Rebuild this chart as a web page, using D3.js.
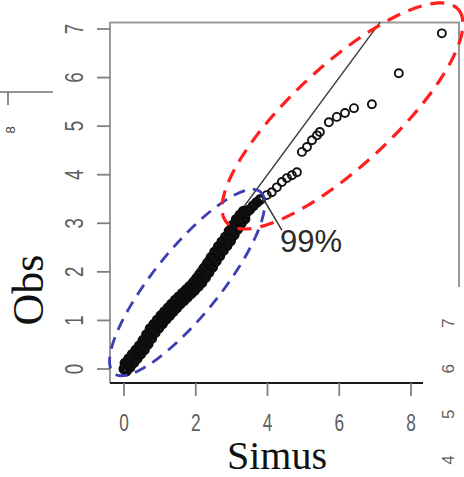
<!DOCTYPE html>
<html><head><meta charset="utf-8">
<script src="https://cdn.jsdelivr.net/npm/d3@7"></script>
<style>html,body{margin:0;padding:0;background:#fff;}svg{display:block;}</style>
</head><body>
<svg id="chart" width="464" height="477"></svg>
<script>
// ---- data ----
const xTicks = [0, 2, 4, 6, 8];
const yTicks = [0, 1, 2, 3, 4, 5, 6, 7];
const xTitle = "Simus";
const yTitle = "Obs";
const annotation = "99%";

// dense band of quantiles (simulated vs observed)
const bandSimus = [0.00,0.10,0.20,0.30,0.40,0.50,0.60,0.70,0.80,0.90,1.00,1.10,1.20,1.30,1.40,1.50,1.60,1.70,1.80,1.90,2.00,2.10,2.20,2.30,2.40,2.50,2.60,2.70,2.80,2.90,3.00,3.10,3.20,3.30,3.40,3.50,3.60,3.70,3.80,
  0.03,0.13,0.23,0.33,0.43,0.53,0.63,0.73,0.83,0.93,1.03,1.13,1.23,1.33,1.43,1.53,1.63,1.73,1.83,1.93,2.03,2.13,2.23,2.33,2.43,2.53,2.63,2.73,2.83,2.93,3.03,3.13,3.23,3.33,
  0.07,0.17,0.27,0.37,0.47,0.57,0.67,0.77,0.87,0.97,1.07,1.17,1.27,1.37,1.47,1.57,1.67,1.77,1.87,1.97,2.07,2.17,2.27,2.37,2.47,2.57,2.67,2.77,2.87,2.97,3.07,3.17,3.27,3.37];
const bandObs = [0.00,0.08,0.17,0.26,0.35,0.44,0.55,0.67,0.79,0.88,0.97,1.06,1.14,1.22,1.30,1.38,1.45,1.52,1.59,1.66,1.74,1.82,1.92,2.03,2.14,2.26,2.37,2.48,2.58,2.68,2.80,2.92,3.04,3.13,3.21,3.28,3.36,3.43,3.49,
  0.12,0.21,0.30,0.39,0.48,0.59,0.71,0.83,0.92,1.01,1.10,1.18,1.26,1.34,1.42,1.49,1.56,1.63,1.70,1.78,1.86,1.96,2.07,2.18,2.30,2.41,2.52,2.62,2.72,2.84,2.96,3.08,3.17,3.25,
  -0.04,0.04,0.13,0.22,0.31,0.40,0.51,0.63,0.75,0.84,0.93,1.02,1.10,1.18,1.26,1.34,1.41,1.48,1.55,1.62,1.70,1.78,1.88,1.99,2.10,2.22,2.33,2.44,2.54,2.64,2.76,2.88,3.00,3.09];
// sparse upper tail
const tailSimus = [3.98,4.12,4.26,4.40,4.54,4.68,4.82,4.96,5.10,5.24,5.38,5.46,5.71,5.93,6.16,6.41,6.91,7.66,8.86];
const tailObs   = [3.58,3.64,3.74,3.85,3.93,3.99,4.05,4.47,4.57,4.71,4.81,4.88,5.08,5.19,5.27,5.37,5.45,6.09,6.91];

// reference line y = x
const refLine = [[0, 0], [7.14, 7.14]];
// confidence ellipses: centre, half major vector, half minor vector (data units)
const blueEllipse = {c: [1.76, 1.78], a: [2.04, 1.87], b: [0.72, -0.43]};
const redEllipse  = {c: [6.09, 5.21], a: [3.22, 2.20], b: [0.95, -0.76]};
// pointer from label to point
const pointer = [[3.90, 3.48], [4.40, 2.86]];
const labelPos = [4.35, 2.41];

// fragments of neighbouring panels
const rightFragTicks = [4, 5, 6, 7];
const leftFragTicks = [8];

// ---- drawing ----
const svg = d3.select("#chart");
svg.append("rect").attr("width", 464).attr("height", 477).attr("fill", "#fff");

const x = d3.scaleLinear().domain([0, 8]).range([124, 411]);
const y = d3.scaleLinear().domain([0, 7]).range([369, 29]);

const gray = "#9a9a9a";
const labelColor = "#5e5e5e";

// frame: top and right border (gray)
svg.append("path").attr("d", `M110,22.5 H459 V287`).attr("fill", "none")
  .attr("stroke", gray).attr("stroke-width", 2);
// y axis line
svg.append("line").attr("x1", 110).attr("x2", 110).attr("y1", 22).attr("y2", 383)
  .attr("stroke", gray).attr("stroke-width", 2);
// x axis line
svg.append("line").attr("x1", 110).attr("x2", 423).attr("y1", 383).attr("y2", 383)
  .attr("stroke", "#1a1a1a").attr("stroke-width", 2.2);

// y ticks
const yAx = svg.append("g");
yAx.selectAll("line").data(yTicks).join("line")
  .attr("x1", 97).attr("x2", 110).attr("y1", d => y(d)).attr("y2", d => y(d))
  .attr("stroke", "#808080").attr("stroke-width", 1.8);
yAx.selectAll("text").data(yTicks).join("text")
  .attr("transform", d => `translate(83,${y(d)}) rotate(-90) scale(0.75,1)`)
  .attr("text-anchor", "middle").attr("font-family", "Liberation Sans, Arial, sans-serif")
  .attr("font-size", 25).attr("fill", labelColor).text(d => d);

// x ticks
const xAx = svg.append("g");
xAx.selectAll("line").data(xTicks).join("line")
  .attr("x1", d => x(d)).attr("x2", d => x(d)).attr("y1", 383).attr("y2", 396)
  .attr("stroke", "#808080").attr("stroke-width", 1.8);
xAx.selectAll("text").data(xTicks).join("text")
  .attr("transform", d => `translate(${x(d)},431) scale(0.72,1)`)
  .attr("text-anchor", "middle").attr("font-family", "Liberation Sans, Arial, sans-serif")
  .attr("font-size", 24).attr("fill", labelColor).text(d => d);

// titles
svg.append("text").attr("x", 277).attr("y", 469).attr("text-anchor", "middle")
  .attr("font-family", "Liberation Serif, Times New Roman, serif").attr("font-size", 40)
  .attr("fill", "#111").text(xTitle);
svg.append("text").attr("transform", "translate(43,290) rotate(-90)").attr("text-anchor", "middle")
  .attr("font-family", "Liberation Serif, Times New Roman, serif").attr("font-size", 44)
  .attr("fill", "#111").text(yTitle);

// reference line
const line = d3.line().x(d => x(d[0])).y(d => y(d[1]));
svg.append("path").attr("d", line(refLine)).attr("fill", "none")
  .attr("stroke", "#3a3a3a").attr("stroke-width", 1.4);

// points: dense band (heavily overlapping) and sparse tail
svg.append("g").selectAll("circle").data(bandSimus.map((s, i) => [s, bandObs[i]])).join("circle")
  .attr("cx", d => x(d[0])).attr("cy", d => y(d[1])).attr("r", 3.8)
  .attr("fill", "none").attr("stroke", "#0d0d0d").attr("stroke-width", 3.4);
svg.append("g").selectAll("circle").data(tailSimus.map((s, i) => [s, tailObs[i]])).join("circle")
  .attr("cx", d => x(d[0])).attr("cy", d => y(d[1])).attr("r", 4)
  .attr("fill", "none").attr("stroke", "#111").attr("stroke-width", 1.9);

// ellipses
function ellipsePts(e) {
  const ts = d3.range(0, 361, 3).map(t => t * Math.PI / 180);
  return ts.map(t => [e.c[0] + e.a[0] * Math.cos(t) + e.b[0] * Math.sin(t),
                      e.c[1] + e.a[1] * Math.cos(t) + e.b[1] * Math.sin(t)]);
}
svg.append("path").attr("d", line(ellipsePts(blueEllipse))).attr("fill", "none")
  .attr("stroke", "#3d3db4").attr("stroke-width", 2.8).attr("stroke-dasharray", "12,8");
svg.append("path").attr("d", line(ellipsePts(redEllipse))).attr("fill", "none")
  .attr("stroke", "#ff1f1f").attr("stroke-width", 3.2).attr("stroke-dasharray", "14,9");

// pointer + label
svg.append("path").attr("d", line(pointer)).attr("fill", "none")
  .attr("stroke", "#333").attr("stroke-width", 1.5);
svg.append("text").attr("x", x(labelPos[0])).attr("y", y(labelPos[1]))
  .attr("font-family", "Liberation Sans, Arial, sans-serif").attr("font-size", 31)
  .attr("fill", "#2a2a2a").text(annotation);

// fragment: right panel axis labels
const yR = d3.scaleLinear().domain([4, 7]).range([460, 323]);
svg.append("g").selectAll("text").data(rightFragTicks).join("text")
  .attr("transform", d => `translate(454,${yR(d)}) rotate(-90)`)
  .attr("text-anchor", "middle").attr("font-family", "Liberation Sans, Arial, sans-serif")
  .attr("font-size", 17).attr("fill", labelColor).text(d => d);

// fragment: left panel axis
svg.append("line").attr("x1", 0).attr("x2", 53).attr("y1", 92).attr("y2", 92)
  .attr("stroke", "#707070").attr("stroke-width", 1.6);
svg.append("line").attr("x1", 8).attr("x2", 8).attr("y1", 92).attr("y2", 105)
  .attr("stroke", "#707070").attr("stroke-width", 1.6);
svg.append("g").selectAll("text").data(leftFragTicks).join("text")
  .attr("transform", "translate(10,130) rotate(-90)")
  .attr("text-anchor", "middle").attr("dominant-baseline", "central")
  .attr("font-family", "Liberation Sans, Arial, sans-serif")
  .attr("font-size", 13).attr("fill", "#444").text(d => d);
</script>
</body></html>
